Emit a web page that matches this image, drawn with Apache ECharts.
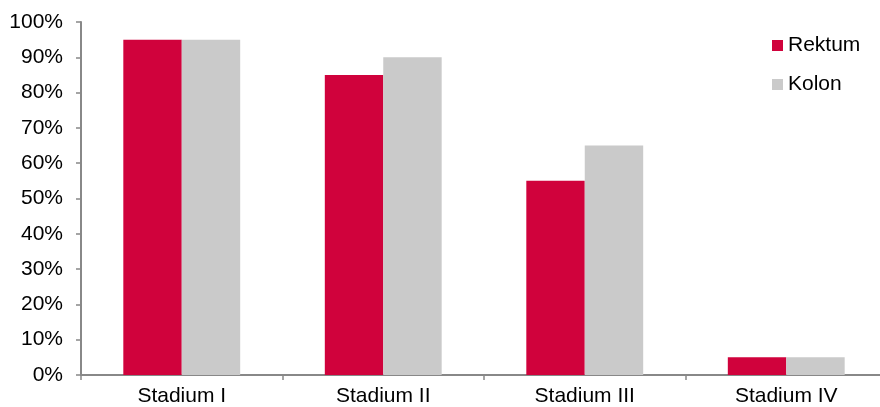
<!DOCTYPE html>
<html>
<head>
<meta charset="utf-8">
<script src="https://cdn.jsdelivr.net/npm/echarts@6/dist/echarts.min.js"></script>
<style>
  html, body { margin: 0; padding: 0; background: #fff; }
  #chart { width: 880px; height: 407px; }
</style>
</head>
<body>
<div id="chart"></div>
<script>
// Share of patients per tumour stage, rectal vs. colon cancer
const categories = ['Stadium I', 'Stadium II', 'Stadium III', 'Stadium IV'];
const rektum = [95, 85, 55, 5];
const kolon = [95, 90, 65, 5];
const yTicks = [0, 10, 20, 30, 40, 50, 60, 70, 80, 90, 100];

const chart = echarts.init(document.getElementById('chart'));
const font = 'Liberation Sans, Arial, Helvetica, sans-serif';

chart.setOption({
  animation: false,
  textStyle: { fontFamily: font },
  // the plot runs a few pixels past the right edge of the canvas
  grid: { left: 81, width: 806, top: 22, height: 353, containLabel: false, outerBoundsMode: 'none' },
  legend: {
    orient: 'vertical',
    left: 767,
    top: 30,
    itemWidth: 11,
    itemHeight: 11,
    itemGap: 18,
    icon: 'rect',
    textStyle: { fontSize: 21, color: '#000', fontFamily: font },
    data: ['Rektum', 'Kolon']
  },
  xAxis: {
    type: 'category',
    data: categories,
    axisLine: { lineStyle: { color: '#888', width: 2 } },
    axisTick: { show: true, length: 5, lineStyle: { color: '#888', width: 1.5 } },
    axisLabel: { fontSize: 21, color: '#000', margin: 11, fontFamily: font }
  },
  yAxis: {
    type: 'value',
    min: yTicks[0],
    max: yTicks[yTicks.length - 1],
    interval: 10,
    axisLine: { show: true, lineStyle: { color: '#888', width: 2 } },
    axisTick: { show: true, length: 5, lineStyle: { color: '#888', width: 1.5 } },
    splitLine: { show: false },
    axisLabel: { fontSize: 21, color: '#000', margin: 18, fontFamily: font, formatter: '{value}%' }
  },
  series: [
    {
      name: 'Rektum',
      type: 'bar',
      data: rektum,
      barGap: '0%',
      barCategoryGap: '42%',
      itemStyle: { color: '#D0023C' }
    },
    {
      name: 'Kolon',
      type: 'bar',
      data: kolon,
      itemStyle: { color: '#CACACA' }
    }
  ]
});
</script>
</body>
</html>
